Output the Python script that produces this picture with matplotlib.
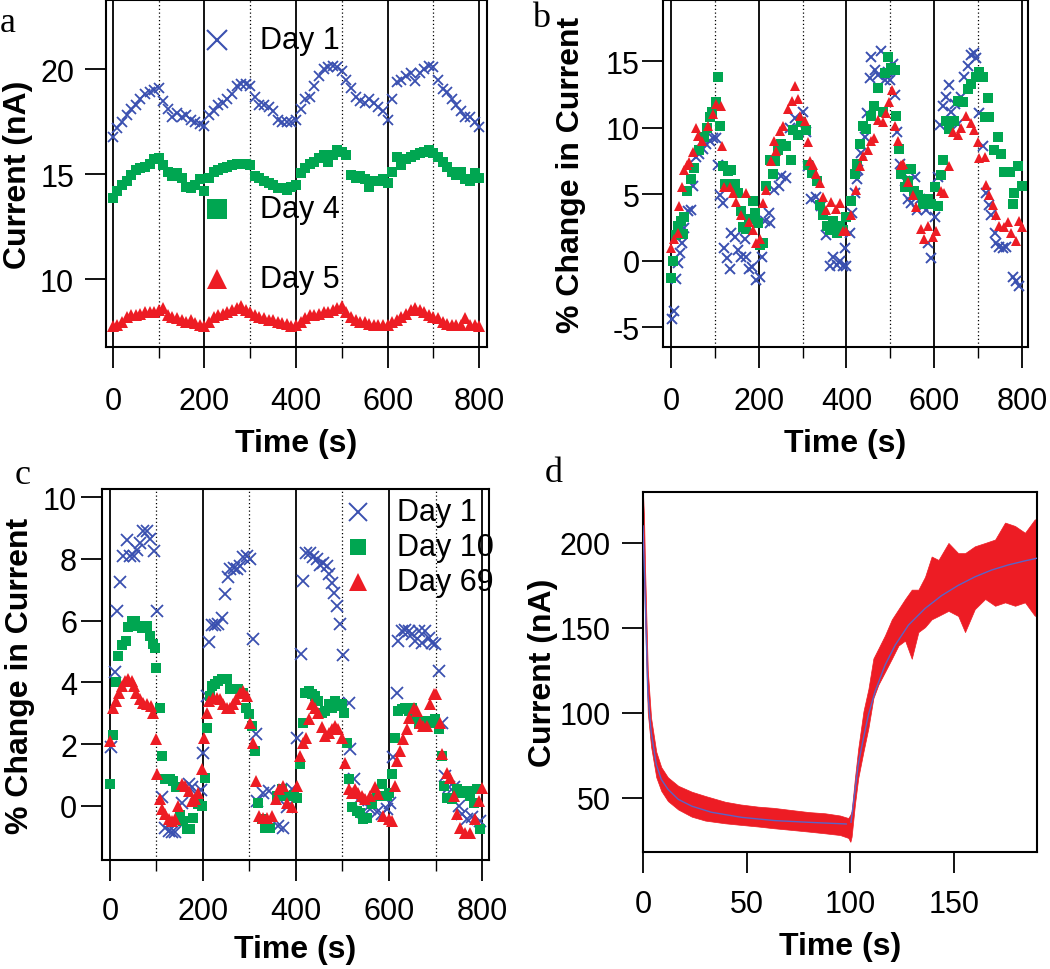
import numpy as np
import matplotlib
matplotlib.use('Agg')
import matplotlib.pyplot as plt

plt.rcParams['font.family'] = ['Liberation Sans', 'DejaVu Sans']
plt.rcParams['axes.unicode_minus'] = False

BLUE = '#3a50b0'
GREEN = '#00a651'
RED = '#ed1c24'

# ---------------- panel a: raw current, 10 s sampling ----------------
a_time = list(range(0, 801, 10))
a_day1 = [16.78, 17.2, 17.5, 17.8, 18.1, 18.3, 18.6, 18.8, 18.9, 19.0, 19.1,
          18.5, 18.1, 17.7, 17.9, 17.7, 17.8, 17.6, 17.5, 17.4, 17.3,
          17.8, 18.0, 18.3, 18.4, 18.6, 18.8, 19.2, 19.3, 19.3, 19.2,
          18.7, 18.3, 18.3, 18.2, 18.0, 17.6, 17.5, 17.5, 17.5, 17.6,
          18.1, 18.6, 18.7, 19.2, 19.7, 20.0, 20.1, 20.15, 20.1, 19.9,
          19.5, 19.1, 18.7, 18.5, 18.4, 18.6, 18.4, 18.2, 18.0, 17.6,
          18.6, 19.4, 19.5, 19.7, 19.8, 19.45, 19.8, 20.0, 20.15, 20.1,
          19.5, 19.05, 18.9, 18.6, 18.3, 18.0, 17.7, 17.7, 17.5, 17.25]
a_day4 = [13.87, 14.2, 14.5, 14.65, 14.95, 15.2, 15.3, 15.35, 15.5, 15.7, 15.75,
          15.45, 15.1, 14.9, 15.05, 14.8, 14.4, 14.35, 14.5, 14.75, 14.2,
          14.8, 15.1, 15.2, 15.3, 15.35, 15.45, 15.5, 15.5, 15.5, 15.45,
          14.9, 14.8, 14.65, 14.6, 14.5, 14.35, 14.35, 14.25, 14.4, 14.5,
          15.05, 15.3, 15.5, 15.6, 15.75, 15.9, 15.6, 15.9, 16.15, 16.05,
          15.9, 14.95, 14.8, 14.9, 14.75, 14.4, 14.65, 14.65, 14.75, 14.6,
          15.1, 15.8, 15.45, 15.7, 15.8, 15.9, 16.0, 16.05, 16.15, 16.0,
          15.8, 15.6, 15.35, 15.1, 14.95, 15.1, 14.75, 14.65, 15.05, 14.8]
a_day5 = [7.74, 7.8, 7.95, 8.2, 8.3, 8.3, 8.35, 8.45, 8.45, 8.45, 8.5,
          8.6, 8.3, 8.2, 8.15, 8.05, 7.95, 8.05, 7.9, 7.8, 7.74,
          7.95, 8.2, 8.3, 8.35, 8.45, 8.5, 8.6, 8.7, 8.5, 8.45,
          8.3, 8.2, 8.15, 8.05, 8.05, 7.95, 7.9, 7.85, 7.75, 7.8,
          7.95, 8.15, 8.3, 8.3, 8.35, 8.45, 8.45, 8.5, 8.6, 8.7,
          8.45, 8.2, 8.05, 7.95, 7.95, 7.85, 7.8, 7.8, 7.8, 7.8,
          7.95, 8.05, 8.2, 8.35, 8.5, 8.6, 8.5, 8.45, 8.3, 8.2,
          8.15, 7.95, 7.85, 7.8, 7.8, 7.8, 8.15, 7.8, 7.8, 7.74]

# ---------------- panel b: % change ----------------
b_day1_t = [3, 6, 12, 16, 21, 26, 31, 39, 46, 50, 58, 65, 73, 80, 88, 96, 102, 107, 111, 119,
            122, 128, 134, 138, 145, 153, 160, 168, 172, 178, 185, 194, 202, 208, 214, 223, 227, 236, 246, 251,
            262, 271, 282, 293, 301, 309, 312, 320, 331, 343, 354, 362, 370, 378, 385, 393, 397, 400,
            408, 412, 419, 425, 427, 434, 442, 446, 453, 457, 465, 472, 480, 487, 495, 499, 506, 510, 516, 522,
            529, 533, 541, 548, 556, 560, 567, 575, 582, 586, 594, 601, 609, 613, 620, 628, 635, 639, 647, 654,
            662, 669, 677, 684, 692, 696, 703, 711, 719, 726, 730, 738, 741, 749, 757, 764, 780, 787, 794]
b_day1_v = [-4.4, -3.8, -1.4, -0.2, 0.57, 1.3, 2.45, 3.7, 3.8, 5.6, 7.8, 8.0, 8.4, 8.8, 9.0, 9.2, 9.2, 7.2, 4.95, 4.3,
            0.95, 0.2, -0.6, 2.07, 1.8, 0.8, 0.3, 1.6, 0.3, -0.6, -0.45, -1.45, -1.2, 0.3, 2.95, 3.55, 2.8, 5.3, 5.6, 6.35,
            6.2, 9.95, 10.7, 10.4, 11.2, 9.7, 7.1, 4.6, 4.8, 4.1, 1.9, -0.4, 0.3, -0.3, -0.05, -0.4, 0.95, -0.4,
            2.1, 3.6, 5.1, 6.1, 6.8, 8.1, 9.3, 11.1, 13.7, 15.3, 14.3, 13.95, 15.8, 13.6, 14.2, 13.6, 14.8, 12.45, 9.7, 7.3,
            6.6, 5.95, 4.6, 4.3, 6.3, 3.8, 4.6, 4.1, 3.8, 1.3, 0.2, 3.3, 6.3, 10.2, 11.6, 12.3, 13.2, 11.2, 11.8, 10.3,
            12.3, 13.8, 14.6, 15.45, 15.6, 15.2, 11.1, 8.6, 5.1, 4.2, 3.45, 2.1, 1.3, 1.05, 0.95, 1.05, -1.2, -1.55, -1.9]
b_day4_t = [1, 5, 11, 16, 24, 27, 31, 36, 46, 53, 65, 76, 82, 88, 94, 102, 107, 113, 119, 123,
            130, 138, 145, 153, 160, 164, 172, 178, 187, 191, 198, 202, 210, 217, 225, 232, 238, 244, 251, 263,
            273, 278, 290, 297, 307, 313, 321, 332, 340, 347, 355, 362, 370, 378, 385, 393,
            400, 411, 419, 424, 430, 438, 445, 457, 464, 472, 483, 487, 494, 502, 510, 514, 520, 525, 533, 540,
            548, 555, 563, 574, 585, 593, 601, 608, 616, 620, 627, 635, 646, 654, 665, 677, 684, 696, 703, 711,
            715, 722, 726, 737, 745, 753, 760, 772, 779, 783, 791, 800]
b_day4_v = [-1.3, 0.0, 1.9, 2.6, 3.0, 2.0, 3.3, 5.2, 6.1, 7.0, 8.3, 9.3, 9.95, 10.8, 11.2, 11.9, 13.8, 10.1, 7.1, 5.75,
            6.75, 6.85, 5.75, 5.1, 3.75, 2.5, 2.35, 3.1, 4.45, 3.55, 2.8, 1.2, 1.3, 5.6, 7.6, 6.5, 7.5, 8.3, 8.8, 8.6,
            7.6, 9.8, 9.45, 10.4, 9.8, 7.2, 6.6, 5.95, 4.2, 3.45, 2.6, 2.3, 2.95, 2.1, 2.6, 2.3,
            3.3, 4.5, 6.5, 7.3, 8.75, 10.15, 9.9, 10.9, 11.6, 12.95, 11.2, 14.1, 15.35, 14.5, 14.3, 10.9, 8.4, 6.5, 5.5, 6.0,
            6.9, 5.25, 4.9, 4.25, 4.65, 4.25, 5.5, 4.1, 6.4, 7.6, 10.5, 9.9, 10.5, 12.0, 11.9, 12.9, 13.3, 13.8, 14.2, 13.8,
            10.8, 12.2, 10.8, 8.3, 9.3, 8.0, 6.7, 6.7, 4.25, 5.1, 7.1, 5.6]
b_day5_t = [1, 6, 16, 19, 26, 31, 36, 42, 50, 58, 61, 72, 84, 96, 103, 115, 117, 122, 134, 141,
            149, 160, 172, 179, 187, 193, 202, 209, 217, 229, 236, 240, 248, 256, 267, 275, 282, 290, 294, 305,
            312, 316, 324, 331, 339, 346, 354, 365, 377, 385, 393,
            400, 411, 422, 430, 438, 449, 457, 464, 472, 483, 491, 498, 504, 510, 517, 525, 529, 540, 551, 559,
            570, 578, 587, 597, 604, 616, 623, 635, 643, 654, 661, 673, 684, 692, 700, 703, 715, 719, 726, 734,
            741, 749, 760, 768, 775, 787, 794, 800]
b_day5_v = [0.95, 1.6, 2.1, 4.1, 5.5, 6.8, 7.2, 7.45, 8.2, 10.0, 9.4, 9.0, 10.1, 11.0, 11.75, 11.6, 8.6, 5.5, 5.5, 5.1,
            4.4, 3.4, 5.1, 2.9, 2.3, 1.3, 1.65, 4.3, 5.3, 7.5, 9.0, 8.25, 9.75, 10.1, 11.4, 12.0, 13.1, 12.15, 10.9, 10.5,
            8.9, 7.5, 7.2, 6.5, 5.8, 4.8, 3.8, 4.4, 3.9, 4.3, 2.2,
            2.2, 3.4, 5.3, 7.1, 7.9, 8.3, 9.0, 9.2, 10.6, 10.4, 11.1, 11.9, 12.8, 10.15, 9.0, 7.2, 7.3, 5.9, 4.9, 4.0,
            2.4, 1.6, 2.6, 1.75, 2.2, 5.25, 5.1, 7.1, 9.7, 9.45, 9.95, 10.85, 10.35, 9.85, 8.9, 7.7, 7.8, 5.7, 4.9, 4.2,
            3.4, 2.6, 2.5, 2.9, 2.1, 1.5, 3.0, 2.5]

# ---------------- panel c: % change, day 1 / 10 / 69 ----------------
c_day1_t = [3, 10, 15, 22, 29, 37, 44, 51, 58, 65, 72, 80, 87, 94, 101, 112, 119, 126, 133, 140,
            155, 169, 177, 185, 195, 201, 208, 213, 219, 226, 233, 241, 248, 254, 259, 266, 273, 280, 287, 294,
            302, 307, 314, 316, 330, 341, 362, 373, 380, 391, 402, 411, 416, 422, 430, 437, 445, 452, 459, 466,
            470, 477, 481, 488, 495, 502, 513, 516, 524, 534, 545, 560, 574, 585, 595, 603, 608, 617, 620, 628,
            635, 642, 649, 656, 664, 671, 678, 685, 692, 699, 707, 714, 721, 728, 739, 750, 757, 768, 778, 796]
c_day1_v = [1.9, 4.35, 6.3, 7.25, 8.1, 8.6, 8.1, 8.1, 8.3, 8.5, 8.9, 8.9, 8.65, 8.25, 6.3, 0.3, -0.7, -0.8, -0.85, -0.85,
            0.1, 0.7, 0.6, 0.4, 0.5, 1.7, 3.57, 5.3, 5.85, 5.85, 5.9, 6.1, 6.86, 7.4, 7.67, 7.7, 7.67, 7.78, 8.05, 8.1,
            8.0, 5.4, 2.33, 0.16, 0.43, 0.49, -0.65, -0.7, -0.05, 0.54, 2.2, 4.93, 7.28, 8.2, 8.2, 8.05, 7.98, 7.8, 7.87, 7.77,
            7.5, 7.23, 6.9, 6.47, 5.88, 4.9, 3.34, 1.83, 0.86, 0.2, -0.2, -0.1, -0.2, -0.26, -0.1, 0.1, 1.6, 3.67, 5.34, 5.66,
            5.7, 5.66, 5.55, 5.34, 5.66, 5.28, 5.66, 5.45, 5.28, 5.23, 4.37, 2.7, 0.97, 0.6, 0.6, 0.0, -0.26, -0.43, -0.37, -0.48]
c_day10_t = [0, 7, 14, 18, 27, 34, 39, 47, 54, 61, 68, 79, 86, 92, 97, 100, 108, 113, 118, 129,
             136, 143, 151, 158, 165, 172, 179, 190, 197, 204, 209, 215, 219, 226, 233, 240, 251, 258, 265, 276,
             287, 293, 298, 305, 312, 319, 326, 334, 344, 359, 369, 380, 395, 403, 409, 415, 420, 427, 434, 441,
             448, 456, 463, 470, 477, 484, 491, 498, 504, 509, 515, 520, 531, 538, 545, 552, 563, 574, 585, 595,
             601, 606, 613, 620, 628, 635, 642, 649, 656, 664, 671, 678, 689, 699, 707, 714, 718, 725, 735, 746,
             757, 768, 775, 782, 789, 796]
c_day10_v = [0.7, 2.3, 4.0, 4.85, 5.2, 5.35, 5.8, 6.0, 6.0, 5.83, 5.77, 5.83, 5.5, 5.23, 5.12, 4.48, 3.18, 1.62, 0.86, 0.86,
             0.81, 0.6, -0.3, -0.5, -0.75, -0.75, -0.4, 0.05, 0.0, 0.92, 2.53, 3.56, 3.88, 3.94, 4.05, 4.1, 4.1, 3.78, 3.78, 3.78,
             3.67, 3.18, 2.97, 2.59, 1.78, 0.1, -0.43, -0.7, -0.7, 0.32, 0.54, 0.32, 0.37, 0.27, 1.35, 2.7, 3.67, 3.72, 3.62, 3.56,
             3.4, 3.02, 3.07, 3.29, 3.18, 3.4, 3.24, 3.29, 3.02, 2.05, 0.86, -0.05, -0.16, -0.22, -0.43, -0.38, 0.05, 0.32, 0.7, 0.32,
             0.43, 1.02, 2.21, 3.07, 3.13, 3.18, 3.07, 3.18, 2.86, 2.65, 2.65, 2.75, 2.7, 2.81, 2.48, 1.62, 0.65, 0.27, 0.22, 0.54,
             0.43, 0.49, 0.32, 0.1, 0.54, -0.75]
c_day69_t = [0, 7, 13, 20, 25, 32, 39, 47, 52, 57, 65, 72, 79, 88, 93, 99, 102, 108, 113, 118,
             126, 133, 140, 147, 154, 161, 169, 176, 183, 190, 197, 202, 208, 214, 221, 230, 237, 244, 251, 258,
             265, 272, 280, 287, 294, 301, 308, 314, 321, 330, 337, 348, 357, 364, 373, 380, 391, 402, 409, 416,
             422, 427, 434, 441, 448, 456, 463, 470, 477, 484, 491, 498, 505, 513, 520, 527, 534, 542, 549, 560,
             570, 577, 588, 599, 606, 613, 617, 624, 631, 638, 644, 653, 660, 667, 674, 682, 689, 696, 700, 709,
             714, 725, 732, 739, 746, 753, 764, 775, 785, 793, 800]
c_day69_v = [2.1, 3.18, 3.4, 3.67, 3.88, 4.05, 4.1, 4.05, 3.88, 3.67, 3.45, 3.34, 3.29, 3.24, 3.02, 2.16, 1.03, 0.22, -0.1, -0.27,
             -0.43, -0.48, -0.43, 0.0, 0.7, 0.65, 0.49, 0.16, 0.22, 0.43, 1.18, 2.2, 3.0, 3.4, 3.5, 3.5, 3.45, 3.29, 3.18, 3.18,
             3.29, 3.45, 3.67, 3.72, 3.56, 2.7, 2.05, 0.81, -0.32, -0.38, -0.38, -0.32, 0.22, 0.54, 0.65, 0.1, -0.05, 0.65, 1.62, 2.05,
             2.2, 2.8, 3.29, 3.18, 3.02, 2.54, 2.27, 2.37, 2.48, 2.59, 2.48, 2.2, 1.4, 0.54, 0.43, 0.54, 0.43, 0.32, 0.22, 0.32,
             0.6, 0.38, -0.32, -0.43, -0.48, 0.65, 1.46, 1.78, 2.16, 2.48, 2.86, 3.18, 3.07, 2.7, 2.59, 2.59, 3.29, 3.62, 3.62, 2.7,
             1.67, 1.08, 0.92, 0.32, -0.27, -0.7, -0.86, -0.86, -0.43, 0.16, 0.59]

# ---------------- panel d: current transient and fit ----------------
d_fit1_t = [0, 1.0, 2.3, 3.9, 6.4, 8.8, 12, 17, 23.5, 33, 47.6, 63.6, 79.7, 98]
d_fit1_v = [210, 171, 112, 89, 69.6, 60.8, 55, 49, 45, 41.4, 38.4, 36.5, 35.5, 34.5]
d_fit2_t = [100.3, 102.2, 103.8, 106.3, 108.7, 111.9, 116.7, 121.6, 128, 136, 144, 152, 160, 168, 176, 184, 190]
d_fit2_v = [35.5, 53.5, 69.6, 85, 98.8, 112.5, 128, 139.8, 151.6, 161.4, 169, 175, 180, 184, 187, 189.4, 191]
d_band_t = [0, 0.5, 1.0, 2.3, 3.9, 6.4, 8.8, 12, 17, 23.5, 30, 39.6, 47, 55.6, 63, 71.7, 80, 87.8, 95, 99,
            100, 100.6, 102.2, 103.8, 106.3, 108.7, 111.1, 113.5, 116.7, 120, 123.2, 126.4, 129.6, 132.8, 136,
            139.2, 142.5, 147.3, 152, 155.3, 160, 165, 169.8, 174.6, 179.4, 184.2, 189, 190]
d_band_hi = [229, 215, 185, 125, 97, 77, 68, 62, 57, 53.5, 51, 47.6, 46, 44.7, 44, 42.7, 41.5, 40.8, 39.5, 38,
             40, 42, 61.6, 79, 100.8, 114, 132, 137.8, 145.6, 155, 161, 167, 172.5, 172.5, 180,
             192, 190, 200, 194, 194, 198, 200, 202, 212, 210, 206, 214, 210]
d_band_lo = [205, 180, 155, 100, 80, 62, 54, 48, 43, 38.8, 36.5, 34.9, 34, 33, 32, 31, 30, 29, 28, 26.3,
             24, 27, 46, 61.6, 77, 91, 108.6, 116.5, 124, 131.8, 139.6, 142.5, 131.8, 147.5, 150.4,
             155, 157, 160, 157, 147.5, 161, 167, 163, 165, 163, 165, 157, 160]


def style_axes(ax, xlim, ylim, yticks, xticks, minor_x=None, ypad=8, xpad=13, xlabelpad=9):
    ax.set_xlim(*xlim)
    ax.set_ylim(*ylim)
    ax.set_xticks(xticks)
    ax.set_yticks(yticks)
    if minor_x is not None:
        ax.set_xticks(minor_x, minor=True)
    ax.tick_params(which='major', direction='out', length=15, width=1.3, labelsize=22)
    ax.tick_params(axis='x', which='major', pad=xpad)
    ax.tick_params(axis='y', which='major', pad=ypad)
    ax.tick_params(which='minor', direction='out', length=8, width=1.0)
    ax.tick_params(axis='y', which='minor', left=False)
    for sp in ax.spines.values():
        sp.set_linewidth(1.5)
    ax.set_xlabel('Time (s)', fontsize=23, fontweight='bold', labelpad=xlabelpad)


def cycle_lines(ax):
    for x in range(0, 801, 200):
        ax.axvline(x, color='black', lw=1.3, zorder=1)
    for x in range(100, 800, 200):
        ax.axvline(x, color='black', lw=0.9, ls=(0, (1, 2)), zorder=1)


fig = plt.figure(figsize=(10.5, 9.7), dpi=100)
W, H = 1050.0, 970.0


def add_ax(l, t, r, b):
    return fig.add_axes([l / W, 1 - b / H, (r - l) / W, (b - t) / H])


# panel a
ax_a = add_ax(106, 1, 487, 348)
cycle_lines(ax_a)
ax_a.plot(a_time, a_day1, ls='none', marker='x', ms=7, mew=1.3, color=BLUE, zorder=3)
ax_a.plot(a_time, a_day4, ls='none', marker='s', ms=7, mew=0, color=GREEN, zorder=3)
ax_a.plot(a_time, a_day5, ls='none', marker='^', ms=9, mew=0, color=RED, zorder=3)
style_axes(ax_a, (-15, 817), (6.76, 23.3), [10, 15, 20], range(0, 801, 200), range(100, 800, 200), ypad=8)
ax_a.set_ylabel('Current (nA)', fontsize=23, fontweight='bold', labelpad=5)
for y, m, c, ms, lab in [(0.885, 'x', BLUE, 15, 'Day 1'),
                         (0.397, 's', GREEN, 14, 'Day 4'),
                         (0.195, '^', RED, 15, 'Day 5')]:
    ax_a.plot([0.291], [y], transform=ax_a.transAxes, marker=m, ms=ms,
              mew=1.5 if m == 'x' else 0, color=c, ls='none', zorder=5)
    ax_a.text(0.404, y, lab, transform=ax_a.transAxes, fontsize=22, va='center', ha='left')

# panel b
ax_b = add_ax(663, 1, 1028, 348)
cycle_lines(ax_b)
ax_b.plot(b_day1_t, b_day1_v, ls='none', marker='x', ms=6.5, mew=1.4, color=BLUE, zorder=3)
ax_b.plot(b_day4_t, b_day4_v, ls='none', marker='s', ms=6.5, mew=0, color=GREEN, zorder=3)
ax_b.plot(b_day5_t, b_day5_v, ls='none', marker='^', ms=7.5, mew=0, color=RED, zorder=3)
style_axes(ax_b, (-18, 814), (-6.5, 19.6), [-5, 0, 5, 10, 15], range(0, 801, 200), range(100, 800, 200), ypad=2)
ax_b.set_ylabel('% Change in Current', fontsize=23, fontweight='bold', labelpad=14)

# panel c
ax_c = add_ax(102, 490, 489, 861)
cycle_lines(ax_c)
ax_c.plot(c_day1_t, c_day1_v, ls='none', marker='x', ms=8, mew=1.3, color=BLUE, zorder=3)
ax_c.plot(c_day10_t, c_day10_v, ls='none', marker='s', ms=7.5, mew=0, color=GREEN, zorder=3)
ax_c.plot(c_day69_t, c_day69_v, ls='none', marker='^', ms=8.5, mew=0, color=RED, zorder=3)
style_axes(ax_c, (-17, 815), (-1.75, 10.26), [0, 2, 4, 6, 8, 10], range(0, 801, 200), range(100, 800, 200),
           ypad=3, xpad=11, xlabelpad=6)
ax_c.set_ylabel('% Change in Current', fontsize=23, fontweight='bold', labelpad=6)
for y, m, c, ms, lab in [(0.938, 'x', BLUE, 13, 'Day 1'),
                         (0.844, 's', GREEN, 12, 'Day 10'),
                         (0.749, '^', RED, 13, 'Day 69')]:
    ax_c.plot([0.661], [y], transform=ax_c.transAxes, marker=m, ms=ms,
              mew=1.4 if m == 'x' else 0, color=c, ls='none', zorder=5)
    ax_c.text(0.762, y, lab, transform=ax_c.transAxes, fontsize=22, va='center', ha='left')

# panel d
ax_d = add_ax(643, 493, 1037, 853)
ax_d.fill_between(d_band_t, d_band_lo, d_band_hi, color=RED, lw=0.5, zorder=2)
ax_d.plot(d_fit1_t, d_fit1_v, color='#5a64c8', lw=1.0, zorder=3)
ax_d.plot(d_fit2_t, d_fit2_v, color='#5a64c8', lw=1.0, zorder=3)
style_axes(ax_d, (0, 190), (18, 230), [50, 100, 150, 200], [0, 50, 100, 150], ypad=8, xpad=12, xlabelpad=8)
ax_d.set_ylabel('Current (nA)', fontsize=23, fontweight='bold', labelpad=1)

# panel letters
for x, y, s in [(0, 938, 'a'), (532, 943, 'b'), (15, 486, 'c'), (545, 488, 'd')]:
    fig.text(x / W, y / H, s, fontsize=26, family=['Liberation Serif', 'DejaVu Serif'],
             ha='left', va='baseline')

fig.savefig('out.png', dpi=100)
